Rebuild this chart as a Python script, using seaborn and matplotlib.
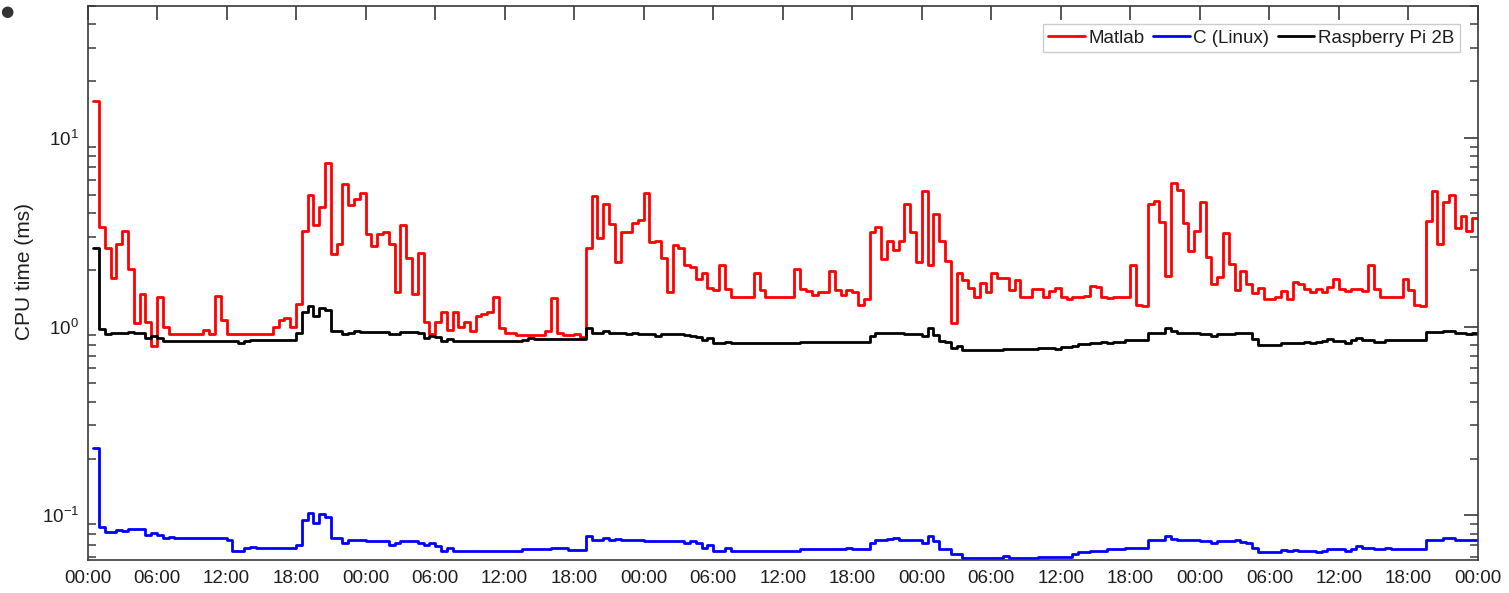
import numpy as np
import pandas as pd
import matplotlib
matplotlib.use("Agg")
import matplotlib.pyplot as plt
import seaborn as sns
from matplotlib.ticker import LogLocator, FixedLocator, NullFormatter

# ---------------- data (step change points: start hour, value in ms) ----------------
series_names = ["Matlab", "C (Linux)", "Raspberry Pi 2B"]
series_colors = ["#ff0000", "#0000ff", "#000000"]

matlab_t = [0.5, 1.0, 1.5, 2.0, 2.5, 3.0, 3.5, 4.0, 4.5, 5.0, 5.5, 6.0, 6.5, 7.0, 10.0, 10.5, 11.0, 11.5,
            12.0, 16.0, 16.5, 17.0, 17.5, 18.0, 18.5, 19.0, 19.5, 20.0, 20.5, 21.0, 21.5, 22.0, 22.5, 23.0,
            23.5, 24.0, 24.5, 25.0, 25.5, 26.0, 26.5, 27.0, 27.5, 28.0, 28.5, 29.0, 29.5, 30.0, 30.5, 31.0,
            31.5, 32.0, 32.5, 33.0, 33.5, 34.0, 34.5, 35.0, 35.5, 36.0, 36.5, 37.0, 39.5, 40.0, 40.5, 41.0,
            42.0, 42.5, 43.0, 43.5, 44.0, 44.5, 45.0, 45.5, 46.0, 47.0, 47.5, 48.0, 48.5, 49.0, 49.5, 50.0,
            50.5, 51.0, 51.5, 52.0, 52.5, 53.0, 53.5, 54.0, 54.5, 55.0, 55.5, 57.5, 58.0, 58.5, 61.0, 61.5,
            62.0, 62.5, 63.0, 64.0, 64.5, 65.0, 65.5, 66.0, 66.5, 67.0, 67.5, 68.0, 68.5, 69.0, 69.5, 70.0,
            70.5, 71.0, 71.5, 72.0, 72.5, 73.0, 73.5, 74.0, 74.5, 75.0, 75.5, 76.0, 76.5, 77.0, 77.5, 78.0,
            78.5, 79.0, 79.5, 80.0, 80.5, 81.5, 82.5, 83.0, 83.5, 84.0, 84.5, 85.0, 86.0, 86.5, 87.0, 87.5,
            88.0, 88.5, 90.0, 90.5, 91.0, 91.5, 92.0, 92.5, 93.0, 93.5, 94.0, 94.5, 95.0, 95.5, 96.0, 96.5,
            97.0, 97.5, 98.0, 98.5, 99.0, 99.5, 100.0, 100.5, 101.0, 101.5, 102.5, 103.0, 103.5, 104.0,
            104.5, 105.0, 105.5, 106.0, 106.5, 107.0, 107.5, 108.0, 108.5, 109.0, 110.0, 110.5, 111.0,
            111.5, 113.5, 114.0, 114.5, 115.0, 115.5, 116.0, 116.5, 117.0, 117.5, 118.0, 118.5, 119.0,
            119.5]
matlab_v = [15.7, 3.36, 2.61, 1.82, 2.73, 3.21, 2.02, 1.05, 1.49, 1.06, 0.79, 1.43, 0.99, 0.91, 0.96, 0.91,
            1.45, 1.08, 0.91, 0.99, 1.08, 1.11, 1.0, 1.32, 3.21, 5.01, 3.44, 4.29, 7.35, 2.43, 2.73, 5.70,
            4.43, 4.74, 5.13, 3.10, 2.67, 3.10, 3.18, 2.73, 1.53, 3.47, 2.32, 1.49, 2.47, 1.06, 0.91, 1.06,
            1.20, 0.955, 1.20, 1.0, 1.06, 0.946, 1.14, 1.16, 1.20, 1.43, 0.98, 0.92, 0.93, 0.90, 0.95, 1.41,
            0.92, 0.90, 0.91, 0.885, 2.6, 4.9, 2.94, 4.46, 3.49, 2.21, 3.19, 3.53, 3.68, 5.1, 2.8, 2.85,
            2.32, 1.53, 2.71, 2.6, 2.12, 2.06, 1.79, 1.93, 1.61, 1.57, 2.12, 1.58, 1.44, 1.92, 1.57, 1.44,
            2.02, 1.58, 1.55, 1.48, 1.52, 1.96, 1.57, 1.48, 1.57, 1.53, 1.30, 1.40, 3.17, 3.39, 2.28, 2.85,
            2.55, 2.85, 4.46, 3.17, 2.21, 5.25, 2.12, 3.94, 2.85, 2.23, 1.05, 1.92, 1.77, 1.61, 1.44, 1.70,
            1.53, 1.92, 1.80, 1.82, 1.57, 1.77, 1.44, 1.58, 1.43, 1.55, 1.60, 1.44, 1.40, 1.44, 1.46, 1.65,
            1.63, 1.44, 1.41, 1.44, 2.11, 1.30, 1.28, 4.46, 4.64, 3.58, 1.86, 5.74, 5.31, 3.53, 2.52, 3.22,
            4.57, 2.35, 1.68, 1.84, 3.13, 2.14, 1.56, 1.96, 1.68, 1.50, 1.60, 1.40, 1.44, 1.55, 1.40, 1.72,
            1.68, 1.58, 1.53, 1.58, 1.53, 1.63, 1.79, 1.58, 1.55, 1.58, 1.55, 2.11, 1.58, 1.44, 1.79, 1.57,
            1.31, 1.28, 3.61, 5.25, 2.73, 4.57, 4.99, 3.32, 3.88, 3.22, 3.76]

c_linux_t = [0.5, 1.0, 1.5, 2.5, 3.0, 3.5, 5.0, 5.5, 6.0, 6.5, 7.0, 7.5, 12.0, 12.5, 13.5, 14.0, 14.5, 18.0,
             18.5, 19.0, 19.5, 20.0, 20.5, 21.0, 22.0, 22.5, 24.0, 26.0, 26.5, 27.0, 28.5, 29.0, 29.5, 30.0,
             30.5, 31.0, 31.5, 37.5, 40.0, 41.5, 43.0, 43.5, 44.5, 45.0, 45.5, 46.0, 48.0, 51.5, 52.0, 52.5,
             53.0, 53.5, 54.0, 55.0, 55.5, 61.5, 65.5, 66.0, 67.5, 68.0, 69.0, 69.5, 70.0, 72.0, 72.5, 73.0,
             73.5, 74.5, 75.5, 79.0, 79.5, 82.0, 85.0, 85.5, 86.5, 88.0, 89.5, 91.5, 93.0, 93.5, 94.0, 96.0,
             97.0, 97.5, 99.0, 99.5, 100.0, 100.5, 101.0, 103.0, 103.5, 104.0, 104.5, 106.0, 106.5, 107.0,
             108.5, 109.0, 109.5, 110.0, 111.0, 112.0, 112.5, 115.5, 117.0, 118.0]
c_linux_v = [0.227, 0.087, 0.082, 0.084, 0.083, 0.085, 0.079, 0.081, 0.079, 0.0755, 0.077, 0.0755, 0.0738,
             0.065, 0.067, 0.068, 0.067, 0.070, 0.094, 0.103, 0.091, 0.102, 0.0985, 0.076, 0.0718, 0.0738,
             0.073, 0.070, 0.0718, 0.073, 0.0718, 0.070, 0.071, 0.069, 0.065, 0.067, 0.0646, 0.0662, 0.0672,
             0.0654, 0.0778, 0.0742, 0.0757, 0.0742, 0.075, 0.074, 0.073, 0.0715, 0.073, 0.0715, 0.0672,
             0.0694, 0.0646, 0.0672, 0.0646, 0.0662, 0.0672, 0.0662, 0.0717, 0.0742, 0.075, 0.0757, 0.0742,
             0.0717, 0.0778, 0.073, 0.0662, 0.0627, 0.0596, 0.0612, 0.0596, 0.0604, 0.0627, 0.064, 0.065,
             0.0662, 0.0672, 0.0742, 0.0778, 0.075, 0.0742, 0.073, 0.0717, 0.073, 0.0742, 0.0725, 0.0714,
             0.0672, 0.064, 0.0654, 0.0646, 0.0654, 0.0646, 0.0637, 0.0646, 0.0662, 0.0646, 0.0662, 0.0686,
             0.0672, 0.0662, 0.0672, 0.0662, 0.0742, 0.0757, 0.0742]

rpi_t = [0.5, 1.0, 1.5, 2.0, 2.5, 3.0, 3.5, 4.0, 5.0, 5.5, 6.0, 6.5, 13.0, 13.5, 14.0, 18.0, 18.5, 19.0,
         19.5, 20.0, 20.5, 21.0, 22.0, 22.5, 23.0, 23.5, 26.0, 27.0, 28.5, 29.0, 29.5, 30.0, 30.5, 31.0,
         31.5, 37.5, 38.0, 38.5, 43.0, 43.5, 44.5, 45.0, 46.0, 46.5, 47.0, 47.5, 49.0, 49.5, 51.5, 52.0,
         52.5, 53.0, 53.5, 54.0, 55.0, 55.5, 61.5, 67.5, 68.0, 70.5, 72.0, 72.5, 73.0, 73.5, 74.0, 74.5,
         75.0, 75.5, 79.0, 82.0, 83.5, 84.0, 85.0, 85.5, 86.5, 87.5, 88.0, 88.5, 89.5, 91.5, 93.0, 93.5,
         94.0, 96.0, 97.0, 97.5, 99.0, 100.5, 101.0, 103.0, 105.0, 105.5, 106.0, 106.5, 107.0, 107.5,
         108.5, 109.0, 109.5, 110.0, 111.0, 112.0, 115.5, 116.5, 117.0, 118.0, 119.0, 119.5]
rpi_v = [2.6, 0.97, 0.91, 0.93, 0.92, 0.93, 0.94, 0.93, 0.875, 0.89, 0.87, 0.843, 0.82, 0.835, 0.85, 0.925,
         1.19, 1.29, 1.14, 1.25, 1.22, 0.946, 0.91, 0.925, 0.946, 0.933, 0.912, 0.933, 0.925, 0.875, 0.89,
         0.88, 0.843, 0.86, 0.84, 0.85, 0.874, 0.857, 0.988, 0.93, 0.95, 0.93, 0.92, 0.91, 0.925, 0.91,
         0.896, 0.91, 0.90, 0.89, 0.885, 0.85, 0.867, 0.816, 0.83, 0.816, 0.832, 0.896, 0.93, 0.91, 0.896,
         0.988, 0.904, 0.839, 0.826, 0.774, 0.792, 0.752, 0.761, 0.774, 0.761, 0.779, 0.792, 0.809, 0.816,
         0.832, 0.816, 0.832, 0.85, 0.92, 0.98, 0.95, 0.92, 0.91, 0.896, 0.91, 0.925, 0.86, 0.80, 0.816,
         0.832, 0.816, 0.832, 0.839, 0.857, 0.839, 0.816, 0.85, 0.874, 0.85, 0.832, 0.85, 0.933, 0.94, 0.95,
         0.93, 0.91, 0.92]

end_hour = 120.0
tick_hours = list(range(0, 121, 6))
tick_labels = ["00:00", "06:00", "12:00", "18:00"] * 5 + ["00:00"]

# ---------------- build long table ----------------
frames = []
for name, t, v in [("Matlab", matlab_t, matlab_v),
                   ("C (Linux)", c_linux_t, c_linux_v),
                   ("Raspberry Pi 2B", rpi_t, rpi_v)]:
    tt = list(t) + [end_hour]
    vv = list(v) + [v[-1]]
    frames.append(pd.DataFrame({"hour": tt, "ms": vv, "series": name}))
df = pd.concat(frames, ignore_index=True)

# ---------------- style ----------------
sns.set_style("white")
plt.rcParams["font.family"] = ["Liberation Sans", "DejaVu Sans"]
plt.rcParams["mathtext.fontset"] = "custom"
plt.rcParams["mathtext.rm"] = "Liberation Sans"
plt.rcParams["mathtext.it"] = "Liberation Sans:italic"
plt.rcParams["mathtext.bf"] = "Liberation Sans:bold"
plt.rcParams["axes.unicode_minus"] = False

fig = plt.figure(figsize=(15.09, 5.93), dpi=100)
ax = fig.add_axes([87.5 / 1509, 1 - 560 / 593, (1478 - 87.5) / 1509, (560 - 6) / 593])

lw = 2.0
sns.lineplot(data=df, x="hour", y="ms", hue="series", hue_order=series_names,
             palette=series_colors, drawstyle="steps-post", estimator=None, sort=False,
             linewidth=lw, ax=ax, legend=False)

ax.set_yscale("log")
ax.set_xlim(0, end_hour)
ax.set_ylim(0.058, 50)

ax.xaxis.set_major_locator(FixedLocator(tick_hours))
ax.set_xticklabels(tick_labels)
ax.yaxis.set_major_locator(LogLocator(base=10, numticks=10))
ax.yaxis.set_minor_locator(LogLocator(base=10, subs=np.arange(2, 10), numticks=20))
ax.yaxis.set_minor_formatter(NullFormatter())

spine_c = "#3a3a3a"
for s in ax.spines.values():
    s.set_visible(True)
    s.set_color(spine_c)
    s.set_linewidth(1.2)

ax.tick_params(axis="both", which="major", direction="in", length=10, width=1.2,
               color=spine_c, top=True, right=True, labelsize=13.5, labelcolor="#1e1e1e")
ax.tick_params(axis="y", which="minor", direction="in", length=6, width=1.1,
               color=spine_c, left=True, right=True)
ax.tick_params(axis="x", which="major", pad=7)
ax.tick_params(axis="y", which="major", pad=6)

ax.set_xlabel("")
ax.set_ylabel("CPU time (ms)", fontsize=15, color="#1e1e1e")
ax.yaxis.set_label_coords(-(87.5 - 34) / (1478 - 87.5), (560 - 272) / 554)

handles = [plt.Line2D([], [], color=c, lw=lw) for c in series_colors]
leg = ax.legend(handles, series_names, loc="upper right", ncol=3, fontsize=13.5,
                frameon=True, fancybox=False, framealpha=1, edgecolor="#cccccc",
                handlelength=1.95, handletextpad=0.2, columnspacing=0.45,
                borderpad=0.3, borderaxespad=0.95)
leg.get_frame().set_linewidth(1.0)
for t in leg.get_texts():
    t.set_color("#1e1e1e")

fig.text(0.0, 1 - 11 / 593, "\u25cf", ha="left", va="center", fontsize=11,
         color="#333333", family=["DejaVu Sans"])

fig.savefig("out.png", dpi=100)
